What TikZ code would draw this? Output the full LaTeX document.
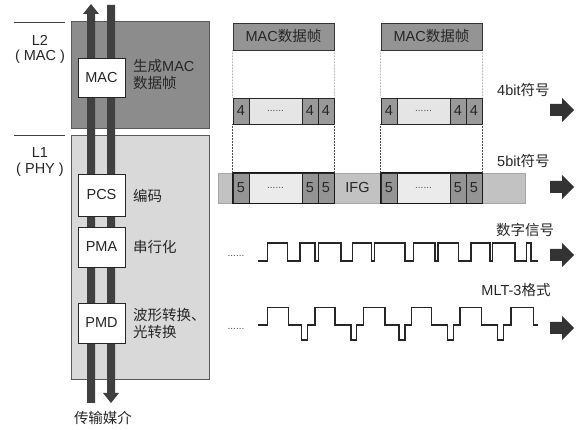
\documentclass[tikz,border=0pt]{standalone}
\usepackage{fontspec}
\setmainfont{Liberation Sans}
\newfontfamily\cjk{Noto Sans CJK SC}
\newcommand{\fs}{\fontsize{14.5}{17}\selectfont}
\newcommand{\dotfs}{\fontsize{10}{10}\selectfont}
\begin{document}
\begin{tikzpicture}[x=1pt,y=-1pt,
  txt/.style={font=\fs, text=black!85, inner sep=0pt},
  layertwo/.style={draw=black!65, line width=0.6pt, fill=black!45, anchor=north west, inner sep=0pt},
  layerone/.style={draw=black!65, line width=0.6pt, fill=black!15, anchor=north west, inner sep=0pt},
  sublayer/.style={draw=black!85, line width=0.8pt, fill=white, minimum width=47pt, minimum height=40pt, inner sep=0pt, font=\fs, text=black!85},
  barfill/.style={fill=black!75},
  framebox/.style={draw=black!80, line width=0.7pt, fill=black!42, minimum width=101pt, minimum height=27pt, inner sep=0pt, font=\fs, text=black!85},
  cellA/.style={draw=black!85, line width=0.6pt, fill=black!40, minimum width=16pt, minimum height=26pt, inner sep=0pt, font=\fs, text=black!85},
  cellB/.style={draw=black!85, line width=0.6pt, fill=black!10, minimum width=53pt, minimum height=26pt, inner sep=0pt, font=\dotfs, text=black!70},
  cellC/.style={draw=black!85, line width=0.6pt, fill=black!42, minimum width=16pt, minimum height=30pt, inner sep=0pt, font=\fs, text=black!85},
  cellD/.style={draw=black!85, line width=0.6pt, fill=black!8, minimum width=53pt, minimum height=30pt, inner sep=0pt, font=\dotfs, text=black!70},
  guide/.style={densely dotted, black!70, line width=0.5pt},
  wave/.style={line width=1.1pt, black!85, line join=miter},
  bigarrow/.pic={\fill[black!80] (0,-6) -- (12,-6) -- (12,-12) -- (24,0) -- (12,12) -- (12,6) -- (0,6) -- cycle;}
]
\useasboundingbox (0,0) rectangle (587,430);

% ---------- left: layers ----------
\draw[black!75, line width=0.6pt] (14,22) -- (65,22);
\draw[black!75, line width=0.6pt] (14,135) -- (65,135);
\node[txt] (l2a) at (40,40) {L2};
\node[txt] (l2b) at (40,57) {( MAC )};
\node[txt] (l1a) at (40,153) {L1};
\node[txt] (l1b) at (40,170) {( PHY )};

\node[layertwo, minimum width=138pt, minimum height=107pt] (ltwo) at (71,21) {};
\node[layerone, minimum width=138pt, minimum height=244pt] (lone) at (71,135) {};

% vertical data bars
\fill[barfill] (87,403) -- (87,14) -- (83,14) -- (91,4) -- (99,14) -- (95,14) -- (95,403) -- cycle;
\fill[barfill] (107,5) -- (107,393) -- (103,393) -- (111,403) -- (119,393) -- (115,393) -- (115,5) -- cycle;

\node[sublayer, minimum height=39pt] (mac) at (101.5,77.5) {MAC};
\node[sublayer, minimum height=42pt] (pcs) at (101.5,195) {PCS};
\node[sublayer] (pma) at (101.5,247) {PMA};
\node[sublayer] (pmd) at (101.5,323) {PMD};

\node[txt, anchor=west, align=left] (macd) at (133,75) {{\cjk 生成}MAC\\{\cjk 数据帧}};
\node[txt, anchor=west] (pcsd) at (133,196) {\cjk 编码};
\node[txt, anchor=west] (pmad) at (133,247) {\cjk 串行化};
\node[txt, anchor=west, align=left] (pmdd) at (133,323) {\cjk 波形转换、\\\cjk 光转换};
\node[txt] (medium) at (103,418) {\cjk 传输媒介};

% ---------- right: frames ----------
\node[framebox] (f1) at (283.5,36.5) {MAC{\cjk 数据帧}};
\node[framebox] (f2) at (431.5,36.5) {MAC{\cjk 数据帧}};

% 4bit row
\node[cellA] (a1) at (241,111) {4};
\node[cellB] (a2) at (275.5,111) {......};
\node[cellA] (a3) at (310,111) {4};
\node[cellA] (a4) at (326,111) {4};
\node[cellA] (b1) at (389,111) {4};
\node[cellB] (b2) at (423.5,111) {......};
\node[cellA] (b3) at (458,111) {4};
\node[cellA] (b4) at (474,111) {4};

% 5bit row
\node[draw=black!35, fill=black!24, minimum width=307pt, minimum height=30pt, inner sep=0pt] (sbar) at (371.5,188) {};
\node[cellC] (c1) at (241,188) {5};
\node[cellD] (c2) at (275.5,188) {......};
\node[cellC] (c3) at (310,188) {5};
\node[cellC] (c4) at (326,188) {5};
\node[cellC] (d1) at (389,188) {5};
\node[cellD] (d2) at (423.5,188) {......};
\node[cellC] (d3) at (458,188) {5};
\node[cellC] (d4) at (474,188) {5};
\draw[black!90, line width=1.4pt] (c1.north west) rectangle (c4.south east);
\draw[black!90, line width=1.4pt] (d1.north west) rectangle (d4.south east);
\node[txt] (ifg) at (357.5,188) {IFG};

% dotted guides
\draw[guide] (f1.south west) -- (a1.north west);
\draw[guide] (f1.south east) -- (a4.north east);
\draw[guide] (f2.south west) -- (b1.north west);
\draw[guide] (f2.south east) -- (b4.north east);
\draw[guide] (a1.south west) -- (c1.north west);
\draw[guide] (a4.south east) -- (c4.north east);
\draw[guide] (b1.south west) -- (d1.north west);
\draw[guide] (b4.south east) -- (d4.north east);

% labels
\node[txt, anchor=west] (l4) at (497,90) {4bit{\cjk 符号}};
\node[txt, anchor=west] (l5) at (497,161) {5bit{\cjk 符号}};
\node[txt] (ldig) at (525,230) {\cjk 数字信号};
\node[txt] (lmlt) at (516,290) {MLT-3{\cjk 格式}};

% dots before waveforms
\node[font=\dotfs, text=black!70, inner sep=0pt] (dd1) at (236,256) {......};
\node[font=\dotfs, text=black!70, inner sep=0pt] (dd2) at (236,329) {......};

% digital waveform
\draw[wave] (258.3,261) -| (267.7,243) -| (287.7,261) -| (300,243) -| (315,261) -| (318.3,243)
  -| (341,261) -| (352.3,243) -| (371.7,261) -| (374.3,243) -| (405,261) -| (413.3,243)
  -| (435,261) -| (438,243) -| (458.3,261) -| (471,243) -| (490,261) -| (492.5,243)
  -| (515,261) -| (526.7,243) -| (531,261) -- (538.3,261);

% MLT-3 waveform
\draw[wave] (258.3,325) -| (267.7,307.7) -| (288.3,325) -| (301.7,340) -| (307.7,325) -| (315,307.7)
  -| (335,325) -| (351,340) -| (356.7,325) -| (363.3,307.7) -| (385,325) -| (399,340)
  -| (405,325) -| (411.7,307.7) -| (431.7,325) -| (447.7,340) -| (453.3,325) -| (460,307.7)
  -| (481.7,325) -| (497.7,340) -| (503.3,325) -| (511,307.7) -| (533.3,325) -- (538.3,325);

% big arrows
\pic at (550,110) {bigarrow};
\pic at (550,187) {bigarrow};
\pic at (550,255) {bigarrow};
\pic at (550,328) {bigarrow};
\end{tikzpicture}
\end{document}
